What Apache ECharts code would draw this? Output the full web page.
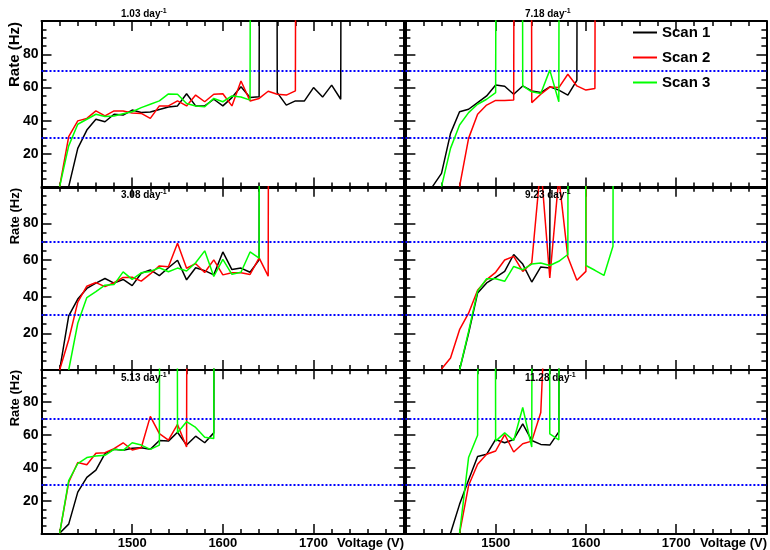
<!DOCTYPE html>
<html><head><meta charset="utf-8">
<script src="https://cdn.jsdelivr.net/npm/echarts@6/dist/echarts.min.js"></script>
<style>html,body{margin:0;padding:0;background:#fff}#c{width:770px;height:550px}</style>
</head><body><div id="c"></div>
<script>
const FONT = '"Liberation Sans", Arial, Helvetica, sans-serif';
const scanNames = ['Scan 1', 'Scan 2', 'Scan 3'];
const scanColors = ['#000000', '#ff0000', '#00ff00'];
const thresholds = [30, 70];
const voltageStep = 10;
const xRange = [1400, 1800];
const yRange = [0, 100];
const panelRates = ['1.03', '7.18', '3.08', '9.23', '5.13', '11.28'];

// 1.03 day^-1 (start voltages for scan 1,2,3)
const start_103 = [1430, 1420, 1420];
const scan1_103 = [0.5, 23.5, 34.5, 41, 39.5, 44, 43.5, 46.5, 45, 45.3, 46.8, 48.3, 49, 56.3, 49, 49, 53, 49, 54, 60.5, 54, 54.5, 3000, 57, 49.5, 52, 52, 60, 54.3, 61.5, 53, 3000];
const scan2_103 = [0.5, 30.5, 40, 41.5, 46, 43, 46, 46, 44.7, 44.5, 41.5, 49, 49, 52, 49, 55.5, 51.5, 56, 56.3, 49, 64, 52, 53.5, 57.8, 56, 55.5, 58, 3000];
const scan3_103 = [0.5, 25, 38, 41, 44, 42.7, 43, 44.3, 45.5, 48, 50, 52, 56.2, 56, 50.5, 49, 48.5, 53.5, 51.5, 55, 54.4, 52.5, 3000];

// 7.18 day^-1
const start_718 = [1430, 1460, 1440];
const scan1_718 = [0.5, 8.5, 32.5, 45.5, 47, 51, 55, 61.5, 60.8, 56, 61, 58, 57, 60.5, 58.5, 55.5, 64.4, 3000];
const scan2_718 = [0.5, 29.5, 44, 49.5, 52.3, 52.3, 52.5, 3000, 51, 56, 60.3, 60, 68, 61, 58.5, 59.5, 3000];
const scan3_718 = [0.5, 23.5, 37.5, 45, 50, 53, 57, 3000, 3000, 61, 57.5, 56.5, 70.5, 51.5, 3000];

// 3.08 day^-1
const start_308 = [1420, 1420, 1430];
const scan1_308 = [0, 29.5, 38.7, 44.5, 47.4, 49.9, 47.4, 49.4, 46, 52.8, 54.6, 51.5, 55.8, 59.9, 49.2, 55.8, 54.2, 51.9, 64.4, 54.8, 55.6, 53.3, 60.1, 3000];
const scan2_308 = [0, 16.5, 37, 45.7, 47.7, 45.5, 47.6, 50.5, 50.6, 48.5, 52.4, 56.8, 56.3, 69.2, 55.5, 58, 53.2, 60.1, 51.9, 53, 53, 52.1, 61.2, 51.2, 3000];
const scan3_308 = [0, 25.5, 39.5, 42.8, 46.3, 46.6, 53.5, 49.4, 53, 53.8, 55.8, 53.6, 55.6, 54, 58.5, 65, 51, 60.3, 52.2, 53.3, 64.4, 61, 3000];

// 9.23 day^-1
const start_923 = [1460, 1440, 1460];
const scan1_923 = [0, 20, 42, 47.5, 50.5, 53.8, 63, 57.8, 48, 56.2, 55.6, 3000];
const scan2_923 = [0.5, 6.5, 22, 31, 43.5, 49.3, 53.3, 60, 62, 53.8, 58.4, 112, 50.2, 105, 61.6, 49, 53.8, 3000];
const scan3_923 = [0, 21, 43, 49.8, 49.8, 48.4, 56.5, 54.7, 57.8, 58.4, 57, 59.3, 63, 3000, 57, 54.4, 51.6, 67.5, 3000];

// 5.13 day^-1
const start_513 = [1420, 1420, 1420];
const scan1_513 = [0.4, 6, 25.4, 34.4, 38.8, 48.8, 51.4, 50.8, 52, 52.4, 51.4, 56.8, 56.4, 61.8, 54, 59.4, 55.4, 61.4, 3000];
const scan2_513 = [0.4, 31.4, 43.4, 42, 49, 49.4, 51.8, 55.4, 51, 52.4, 71.4, 61, 57, 66.5, 52.8, 3000];
const scan3_513 = [0.4, 32.4, 42.8, 46.4, 47.4, 47.8, 51.4, 50.8, 55.4, 54, 51.4, 54, 3000, 61.5, 68.2, 64.7, 58.7, 58, 3000];

// 11.28 day^-1
const start_1128 = [1450, 1460, 1460];
const scan1_1128 = [0.4, 18, 32.8, 47, 48.4, 57.4, 55.4, 57.4, 66.8, 56.8, 54.4, 54, 62, 3000];
const scan2_1128 = [0.4, 29.4, 42.4, 48.4, 50.4, 60.4, 49.8, 54.8, 56.4, 73.8, 200];
const scan3_1128 = [0.4, 46.4, 60, 3000, 56.4, 61.4, 56.8, 76.8, 52.8, 3000, 60.8, 57.2, 3000];

const panelStarts = [start_103, start_718, start_308, start_923, start_513, start_1128];
const panelScans = [
  [scan1_103, scan2_103, scan3_103],
  [scan1_718, scan2_718, scan3_718],
  [scan1_308, scan2_308, scan3_308],
  [scan1_923, scan2_923, scan3_923],
  [scan1_513, scan2_513, scan3_513],
  [scan1_1128, scan2_1128, scan3_1128]
];

// layout
const colLeft = [41.5, 405.4];
const colWidth = [362.7, 361];
const rowTop = [21, 186.7, 369.3];
const rowHeight = [166.5, 183.3, 166.7];

const grids = [], xAxes = [], yAxes = [], series = [], titles = [], graphics = [];
const tickLine = { color: '#000', width: 1.5 };

for (let p = 0; p < 6; p++) {
  const row = Math.floor(p / 2), col = p % 2;
  grids.push({ left: colLeft[col], top: rowTop[row], width: colWidth[col], height: rowHeight[row] });
  const xBase = {
    type: 'value', gridIndex: p, min: xRange[0], max: xRange[1], interval: 100,
    axisLine: { show: true, onZero: false, lineStyle: { color: '#000', width: 2 } },
    axisTick: { show: true, inside: true, length: 10, lineStyle: tickLine },
    minorTick: { show: true, splitNumber: 5, length: 5, lineStyle: tickLine },
    splitLine: { show: false }, minorSplitLine: { show: false }
  };
  xAxes.push(Object.assign({}, xBase, {
    position: 'bottom',
    axisLabel: { show: row === 2, showMinLabel: false, showMaxLabel: false, margin: 3,
      formatter: v => String(v),
      fontFamily: FONT, fontWeight: 'bold', fontSize: 13, color: '#000' }
  }));
  xAxes.push(Object.assign({}, xBase, { position: 'top', axisLabel: { show: false } }));
  const yBase = {
    type: 'value', gridIndex: p, min: yRange[0], max: yRange[1], interval: 20,
    axisLine: { show: true, onZero: false, lineStyle: { color: '#000', width: 2 } },
    axisTick: { show: true, inside: true, length: 10, lineStyle: tickLine },
    minorTick: { show: true, splitNumber: 4, length: 5, lineStyle: tickLine },
    splitLine: { show: false }, minorSplitLine: { show: false }
  };
  yAxes.push(Object.assign({}, yBase, {
    position: 'left',
    axisLabel: { show: col === 0, showMinLabel: false, showMaxLabel: false, margin: 3,
      formatter: v => String(v),
      fontFamily: FONT, fontWeight: 'bold', fontSize: 14, color: '#000' }
  }));
  yAxes.push(Object.assign({}, yBase, { position: 'right', axisLabel: { show: false } }));

  for (let s = 0; s < 3; s++) {
    const start = panelStarts[p][s];
    const data = panelScans[p][s].map((v, i) => [start + i * voltageStep, v]);
    const ser = {
      type: 'line', name: scanNames[s], xAxisIndex: 2 * p, yAxisIndex: 2 * p,
      data: data, symbol: 'none', clip: true, z: 3 + s, animation: false,
      lineStyle: { color: scanColors[s], width: 1.5 }, itemStyle: { color: scanColors[s] }
    };
    if (s === 0) {
      ser.markLine = {
        silent: true, symbol: ['none', 'none'], animation: false,
        label: { show: false },
        lineStyle: { color: '#0000ff', width: 2, type: [2, 2] },
        data: thresholds.map(t => ({ yAxis: t }))
      };
    }
    series.push(ser);
  }

  const titleTop = [8, 189, 372][row];
  titles.push({
    left: col === 0 ? 121 : 525, top: titleTop,
    text: '{a|' + panelRates[p] + ' day}{b|-1}',
    textStyle: {
      rich: {
        a: { fontFamily: FONT, fontWeight: 'bold', fontSize: 10, color: '#000', lineHeight: 12 },
        b: { fontFamily: FONT, fontWeight: 'bold', fontSize: 7, color: '#000', verticalAlign: 'top', lineHeight: 12 }
      }
    },
    padding: 0
  });
}

// axis titles
const yTitleTop = [22, 188, 370];
const yTitleSize = [15, 13, 13];
for (let r = 0; r < 3; r++) {
  graphics.push({
    type: 'text', x: 15, y: yTitleTop[r], rotation: Math.PI / 2,
    style: { text: 'Rate (Hz)', fontFamily: FONT, fontWeight: 'bold', fontSize: yTitleSize[r],
      fill: '#000', align: 'right', verticalAlign: 'middle' }
  });
}
const xTitleRight = [404, 767];
for (let c = 0; c < 2; c++) {
  graphics.push({
    type: 'text', x: xTitleRight[c], y: 543,
    style: { text: 'Voltage (V)', fontFamily: FONT, fontWeight: 'bold', fontSize: 13,
      fill: '#000', align: 'right', verticalAlign: 'middle' }
  });
}

const chart = echarts.init(document.getElementById('c'), null, { renderer: 'canvas' });
chart.setOption({
  animation: false,
  backgroundColor: '#fff',
  title: titles,
  grid: grids,
  xAxis: xAxes,
  yAxis: yAxes,
  legend: {
    data: scanNames.map(n => ({ name: n, icon: 'path://M0,0H24V2H0Z' })),
    orient: 'vertical', left: 633, top: 25, padding: 0,
    itemWidth: 24, itemHeight: 15, itemGap: 10,
    textStyle: { fontFamily: FONT, fontWeight: 'bold', fontSize: 15, color: '#000' }
  },
  series: series,
  graphic: graphics
});
</script></body></html>
